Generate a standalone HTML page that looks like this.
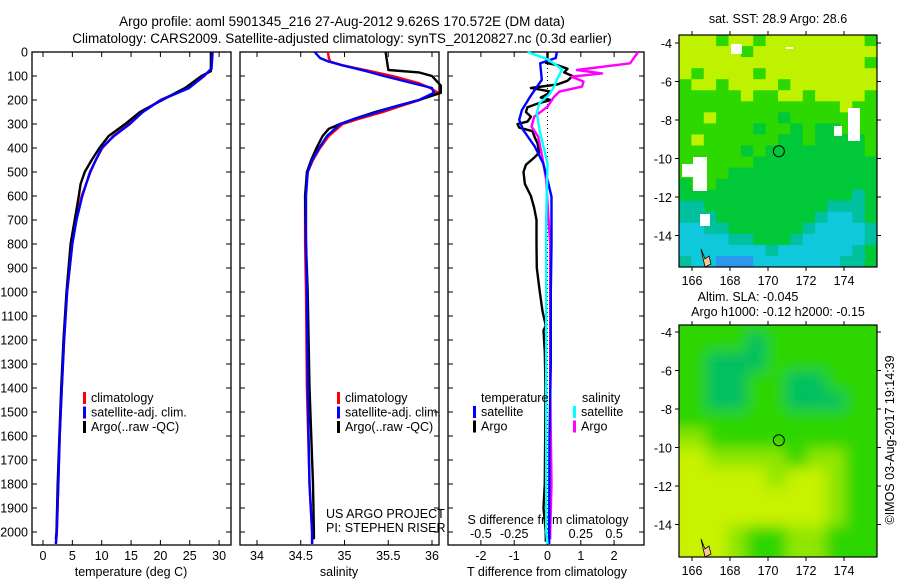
<!DOCTYPE html>
<html><head><meta charset="utf-8"><style>
body{margin:0;background:#fff}
svg{display:block;font-family:"Liberation Sans",sans-serif}
text{fill:#000}
</style></head><body>
<svg id="fig" width="900" height="580" viewBox="0 0 900 580">
<text x="342" y="26" font-size="13.5" text-anchor="middle">Argo profile: aoml 5901345_216 27-Aug-2012 9.626S 170.572E (DM data)</text>
<text x="342" y="43" font-size="13.5" text-anchor="middle">Climatology: CARS2009. Satellite-adjusted climatology: synTS_20120827.nc (0.3d earlier)</text>
<g id="p1"></g>
<g id="p2"></g>
<g id="p3"></g>
<g id="m1"></g>
<g id="m2"></g>
<text x="778" y="23" font-size="12.5" text-anchor="middle">sat. SST: 28.9 Argo: 28.6</text>
<text x="748" y="301" font-size="12.5" text-anchor="middle">Altim. SLA: -0.045</text>
<text x="778" y="316" font-size="12.5" text-anchor="middle">Argo h1000: -0.12 h2000: -0.15</text>
<text transform="translate(894,440) rotate(-90)" font-size="12.5" text-anchor="middle">©IMOS 03-Aug-2017 19:14:39</text>
</svg>
<script>
// ---- data ----
const depthTicks=[0,100,200,300,400,500,600,700,800,900,1000,1100,1200,1300,1400,1500,1600,1700,1800,1900,2000];
const tempTicks=[0,5,10,15,20,25,30];
const salTicks=[34,34.5,35,35.5,36];
const salTickLabels=["34","34.5","35","35.5","36"];
const tdiffTicks=[-2,-1,0,1,2];
const sdiffTicks=[-0.5,-0.25,0,0.25,0.5];
const sdiffTickLabels=["-0.5","-0.25","0","0.25","0.5"];
const tClimDepth=[0,70,100,150,200,250,300,350,400,450,500,600,700,800,1000,1200,1400,1600,1800,2000,2050];
const tClimVal=[28.8,28.6,27.5,24.8,20.0,17.0,14.6,12.0,10.1,9.0,8.1,6.6,5.6,5.0,4.1,3.6,3.2,2.85,2.6,2.35,2.2];
const tSatVal=[28.9,28.7,27.4,24.9,20.1,17.0,14.8,12.1,10.0,9.0,8.0,6.7,5.7,5.0,4.1,3.6,3.2,2.85,2.6,2.35,2.2];
const tArgoDepth=[0,80,100,150,200,250,300,350,400,450,500,550,600,700,800,1000,1200,1400,1600,1800,2000,2030];
const tArgoVal=[28.6,28.6,27.0,24.2,20.3,16.5,14.0,11.2,9.6,8.3,7.1,6.4,6.1,5.4,4.7,4.0,3.5,3.1,2.8,2.5,2.3,2.2];
const sClimDepth=[0,25,40,55,80,100,130,150,170,200,230,250,280,300,350,400,450,500,600,800,1000,1400,1800,2000,2050];
const sClimVal=[34.81,34.82,34.84,34.97,35.3,35.55,35.85,35.98,36.07,35.86,35.6,35.44,35.15,34.98,34.82,34.72,34.64,34.58,34.55,34.55,34.56,34.57,34.6,34.63,34.63];
const sSatVal=[34.66,34.72,34.82,34.97,35.25,35.45,35.78,36.0,36.02,35.85,35.55,35.38,35.1,34.95,34.8,34.71,34.63,34.58,34.56,34.56,34.57,34.58,34.6,34.63,34.63];
const sArgoDepth=[0,75,85,100,120,140,170,200,230,250,280,300,320,350,400,450,500,600,800,1000,1400,1800,2000,2030];
const sArgoVal=[35.47,35.5,35.85,36.0,36.05,36.1,36.1,35.85,35.55,35.35,35.1,34.95,34.82,34.75,34.68,34.62,34.57,34.55,34.56,34.58,34.6,34.64,34.65,34.65];
const dTArgoDepth=[0,30,45,55,70,85,100,120,135,150,165,175,190,200,215,230,250,270,290,300,315,330,350,380,420,440,470,500,550,600,650,700,800,900,990,1080,1140,1160,1250,1400,1600,1800,1900,2000,2040];
const dTArgoVal=[0,0,-0.05,0.3,0.6,0.5,0.75,0.6,0.3,-0.5,0.1,0,-0.2,0.1,-0.3,-0.6,-0.65,-0.5,-0.6,-0.9,-0.85,-0.45,-0.4,-0.3,-0.25,-0.4,-0.65,-0.72,-0.68,-0.5,-0.4,-0.33,-0.33,-0.32,-0.24,-0.15,-0.05,-0.12,-0.08,-0.06,-0.07,-0.08,-0.12,-0.05,-0.05];
const dTSatDepth=[0,25,47,116,186,242,283,325,394,464,533,603,800,1000,1300,1600,2000,2050];
const dTSatVal=[0.28,0.25,-0.22,-0.17,-0.52,-0.77,-0.85,-0.73,-0.38,-0.13,0,0.12,0.12,0.1,0.1,0.06,0.05,0.05];
const dSSatDepth=[0,30,72,116,144,179,213,255,325,394,464,700,1000,1500,2000,2050];
const dSSatVal=[-0.15,0,0.11,0.07,0.05,0.01,-0.06,-0.08,-0.06,-0.03,0,-0.01,-0.01,-0.01,-0.01,0];
const dSArgoDepth=[0,47,75,89,103,123,144,165,186,228,270,311,353,436,533,630,800,1000,1400,1800,2000,2030];
const dSArgoVal=[0.68,0.62,0.22,0.41,0.18,0.27,0.26,0.09,0.05,0,-0.1,-0.12,-0.07,-0.04,-0.01,0,0.02,0.02,0.02,0.03,0.02,0.02];
const mapLonTicks=[166,168,170,172,174];
const mapLatTicks=[-4,-6,-8,-10,-12,-14];
const argoLon=170.572, argoLat=-9.626;
const sstGrid=[
"YYYGYYGYYYYYYYYG",
"YYYYYGYYYYYYYYYY",
"YYYYYYYYYYYYYYYG",
"YGYYYYGYYYYYYYYY",
"GYYGYYYYGYYYYYYY",
"GGGGGYGGYYGYYYYG",
"GGGGGGGGGGGGGYGG",
"GGYGGGGGDGGGGGGG",
"GGGGGGDGGDGDDGGG",
"GYGGGGGGDDGDDDDG",
"GGGGGDGDDDDDDDDG",
"GGGGGGDDDDDDDDDD",
"GGGGDDDDDDDDDDDD",
"DGGDDDDDDDDDDDDD",
"DDDDDDDDDDDDDDTD",
"TTDDDDDDDDDDTTTD",
"TTTDDDDDDDDTCCTD",
"CCTTDDDDDDTCCCCT",
"CCCCTTDDDTCCCCCT",
"CCCCCCCTCCCCCCTD",
"TCCBBBCCCCCCCTTD"];
const slaGrid=["GGGGGGGGGG","GGGGTGGGGG","GGTTTGGGGG","GGTTGGTTGG","GGTTGGTTTG","GGGGGGGGGG","LLGGGGGGGG","YYLLLLGLLG","YYYYYLYYLG","YYYYYYYYLG","YYYYYYYYLG","YYYLGGLLGG"];
const sstColors={Y:"#bef200",G:"#2cd800",D:"#00c838",T:"#00c0a0",C:"#10c8dc",B:"#2898f0"};
const slaColors={G:"#2ed600",T:"#00c060",Y:"#c8f200",L:"#90e600"};

// ---- geometry ----
const NS="http://www.w3.org/2000/svg";
const top0=52, bot=545;
const yD=d=>top0+d*0.24;
function mk(tag,attrs,parent,text){const e=document.createElementNS(NS,tag);for(const k in attrs)e.setAttribute(k,attrs[k]);if(text!==undefined)e.textContent=text;parent.appendChild(e);return e;}
function panel(g,x0,x1){
  const r=mk('rect',{x:x0,y:top0,width:x1-x0,height:bot-top0,fill:'none',stroke:'#000','stroke-width':1.3},g);
  
  
  depthTicks.forEach(d=>{
    mk('line',{x1:x0,x2:x0+5,y1:yD(d),y2:yD(d),stroke:'#000'},g);
    mk('line',{x1:x1,x2:x1-5,y1:yD(d),y2:yD(d),stroke:'#000'},g);
  });
}
function xticks(g,xs,labels,sx,ly){
  xs.forEach((v,i)=>{
    mk('line',{x1:sx(v),x2:sx(v),y1:bot,y2:bot-5,stroke:'#000'},g);
    mk('line',{x1:sx(v),x2:sx(v),y1:top0,y2:top0+5,stroke:'#000'},g);
    const t=mk('text',{x:sx(v),y:ly,'font-size':12.5,'text-anchor':'middle'},g,labels[i]);
    
    
  });
}
function line(g,depths,vals,sx,color,name,w){
  const pts=depths.map((d,i)=>sx(vals[i]).toFixed(1)+','+yD(d).toFixed(1)).join(' ');
  const p=mk('polyline',{points:pts,fill:'none',stroke:color,'stroke-width':w||2.4,'stroke-linejoin':'round'},g);
  
  
}
function legend(g,x,y,items){
  items.forEach((it,i)=>{
    mk('rect',{x:x,y:y+i*14.5-10,width:3,height:12,fill:it[1]},g);
    const t=mk('text',{x:x+8,y:y+i*14.5,'font-size':12.5},g,it[0]);
    
    
  });
}

// panel 1
const g1=document.getElementById('p1');
const sxT=v=>43+v*5.87;
panel(g1,32,231);
depthTicks.forEach(d=>{const t=mk('text',{x:28,y:yD(d)+4.5,'font-size':12.5,'text-anchor':'end'},g1,String(d));
  
  });
xticks(g1,tempTicks,tempTicks.map(String),sxT,560);
let t=mk('text',{x:131,y:576,'font-size':12.5,'text-anchor':'middle'},g1,'temperature (deg C)');


line(g1,tClimDepth,tClimVal,sxT,'#ff0000','temp-climatology-line');
line(g1,tArgoDepth,tArgoVal,sxT,'#000000','temp-argo-line');
line(g1,tClimDepth,tSatVal,sxT,'#0000ff','temp-satellite-line');
legend(g1,83,402,[['climatology','#f00'],['satellite-adj. clim.','#00f'],['Argo(..raw -QC)','#000']]);

// panel 2
const g2=document.getElementById('p2');
const sxS=v=>257+(v-34)*87.5;
panel(g2,240,439);
xticks(g2,salTicks,salTickLabels,sxS,560);
t=mk('text',{x:339,y:576,'font-size':12.5,'text-anchor':'middle'},g2,'salinity');


line(g2,sClimDepth,sClimVal,sxS,'#ff0000','sal-climatology-line');
line(g2,sArgoDepth,sArgoVal,sxS,'#000000','sal-argo-line');
line(g2,sClimDepth,sSatVal,sxS,'#0000ff','sal-satellite-line');
legend(g2,337,402,[['climatology','#f00'],['satellite-adj. clim.','#00f'],['Argo(..raw -QC)','#000']]);
t=mk('text',{x:326,y:518,'font-size':12.5},g2,'US ARGO PROJECT');


t=mk('text',{x:326,y:532,'font-size':12.5},g2,'PI: STEPHEN RISER');



// panel 3
const g3=document.getElementById('p3');
const sxDT=v=>547.5+v*33.3;
const sxDS=v=>547.5+v*133.2;
panel(g3,448,644);
mk('line',{x1:sxDT(0),x2:sxDT(0),y1:top0,y2:bot,stroke:'#000','stroke-dasharray':'1,3'},g3);
xticks(g3,tdiffTicks,tdiffTicks.map(String),sxDT,560);
sdiffTicks.forEach((v,i)=>{const tt=mk('text',{x:sxDS(v),y:538,'font-size':12.5,'text-anchor':'middle'},g3,sdiffTickLabels[i]);
  
  });
t=mk('text',{x:548,y:524,'font-size':12.5,'text-anchor':'middle'},g3,'S difference from climatology');


t=mk('text',{x:547,y:576,'font-size':12.5,'text-anchor':'middle'},g3,'T difference from climatology');


line(g3,dTArgoDepth,dTArgoVal,sxDT,'#000000','tdiff-argo-line');
line(g3,dSArgoDepth,dSArgoVal,sxDS,'#ff00ff','sdiff-argo-line');
line(g3,dTSatDepth,dTSatVal,sxDT,'#0000ff','tdiff-satellite-line');
line(g3,dSSatDepth,dSSatVal,sxDS,'#00ffff','sdiff-satellite-line');
t=mk('text',{x:481,y:402,'font-size':12.5},g3,'temperature');


t=mk('text',{x:582,y:402,'font-size':12.5},g3,'salinity');


legend(g3,473,416,[['satellite','#00f'],['Argo','#000']]);
legend(g3,573,416,[['satellite','#0ff'],['Argo','#f0f']]);

// maps
function map(g,y0,y1,grid,colors,blur,id,lat4y){
  const x0=679,x1=877;
  const lonX=v=>692+(v-166)*19;
  const latY=v=>lat4y+(-4-v)*19.25;
  const cp=mk('clipPath',{id:'cp'+id},g);
  mk('rect',{x:x0,y:y0,width:x1-x0,height:y1-y0},cp);
  const inner=mk('g',{'clip-path':'url(#cp'+id+')'},g);
  let holder=inner;
  if(blur){const f=mk('filter',{id:'bl'+id,x:'-10%',y:'-10%',width:'120%',height:'120%'},g);
    mk('feGaussianBlur',{stdDeviation:7},f);
    mk('rect',{x:x0,y:y0,width:x1-x0,height:y1-y0,fill:colors.G},inner);
    holder=mk('g',{filter:'url(#bl'+id+')'},inner);}
  const rows=grid.length, cols=grid[0].length;
  const cw=(x1-x0)/cols, ch=(y1-y0)/rows;
  grid.forEach((row,r)=>{[...row].forEach((c,k)=>{
    mk('rect',{x:x0+k*cw-(blur?cw*0.6:0),y:y0+r*ch-(blur?ch*0.6:0),width:cw+(blur?cw*1.2:0.5),height:ch+(blur?ch*1.2:0.5),fill:colors[c]},holder);
  });});
  if(!blur){
    [[731,44,11,10],[786,47,7,2],[834,126,8,10],[848,108,12,33],[682,164,14,13],[693,157,14,34],[700,214,10,12]].forEach(w=>mk('rect',{x:w[0],y:w[1],width:w[2],height:w[3],fill:'#fff'},inner));
  }
  mk('path',{d:`M701 ${y1-18} l4 10 l4 -3 l2 8 l-6 3 z`,fill:'#f8c896',stroke:'#000','stroke-width':0.8},inner);
  const fr=mk('rect',{x:x0,y:y0,width:x1-x0,height:y1-y0,fill:'none',stroke:'#000','stroke-width':1.2},g);
  
  
  mapLonTicks.forEach(v=>{
    mk('line',{x1:lonX(v),x2:lonX(v),y1:y0,y2:y0-4,stroke:'#000'},g);
    mk('line',{x1:lonX(v),x2:lonX(v),y1:y1,y2:y1+4,stroke:'#000'},g);
    const tt=mk('text',{x:lonX(v),y:y1+18,'font-size':12.5,'text-anchor':'middle'},g,String(v));
    
    
  });
  mapLatTicks.forEach(v=>{
    mk('line',{x1:x0,x2:x0-4,y1:latY(v),y2:latY(v),stroke:'#000'},g);
    mk('line',{x1:x1,x2:x1+4,y1:latY(v),y2:latY(v),stroke:'#000'},g);
    const tt=mk('text',{x:672,y:latY(v)+5,'font-size':12.5,'text-anchor':'end'},g,String(v));
    
    
  });
  const c=mk('circle',{cx:lonX(argoLon),cy:latY(argoLat),r:5.5,fill:'none',stroke:'#000','stroke-width':1},g);
  
  
}
map(document.getElementById('m1'),35,267,sstGrid,sstColors,false,1,43);
map(document.getElementById('m2'),325,557,slaGrid,slaColors,true,2,332);
</script>
</body></html>
